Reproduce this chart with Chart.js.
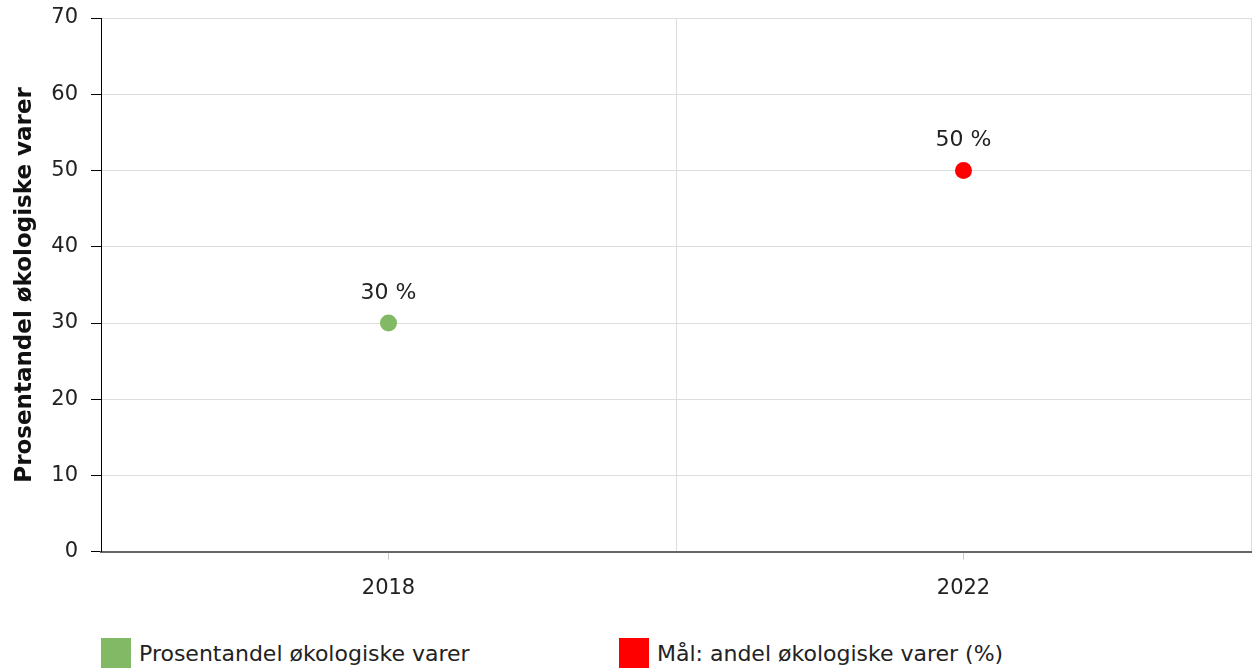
<!DOCTYPE html>
<html>
<head>
<meta charset="utf-8">
<script src="https://cdn.jsdelivr.net/npm/chart.js@4/dist/chart.umd.min.js"></script>
<style>
  body { margin: 0; background: #fff; font-family: "DejaVu Sans", sans-serif; }
  #wrap { position: relative; width: 1253px; height: 670px; }
  #box { position: absolute; left: 0; top: 0; width: 1253px; height: 625px; }
  .leg { position: absolute; top: 638px; display: flex; align-items: center; font-size: 22px; color: #222; }
  .leg span.sw { display: inline-block; width: 30px; height: 30px; margin-right: 8px; }
</style>
</head>
<body>
<div id="wrap">
  <div id="box"><canvas id="c"></canvas></div>
  <div id="legend"></div>
</div>
<script>
const years = ['2018', '2022'];
const actualShare = [30, null];
const targetShare = [null, 50];
const seriesNames = ['Prosentandel økologiske varer', 'Mål: andel økologiske varer (%)'];
const seriesColors = ['#82b964', '#ff0000'];
const yTitle = 'Prosentandel økologiske varer';

const font = { family: 'DejaVu Sans', size: 21 };

// value labels above the points
const pointLabels = {
  id: 'pointLabels',
  afterDatasetsDraw(chart) {
    const ctx = chart.ctx;
    ctx.save();
    ctx.font = '22px "DejaVu Sans"';
    ctx.fillStyle = '#222';
    ctx.textAlign = 'center';
    ctx.textBaseline = 'middle';
    chart.data.datasets.forEach((ds, i) => {
      chart.getDatasetMeta(i).data.forEach((pt, j) => {
        const v = ds.data[j];
        if (v == null) return;
        ctx.fillText(v + ' %', pt.x, pt.y - 30);
      });
    });
    ctx.restore();
  }
};

const chart = new Chart(document.getElementById('c'), {
  type: 'line',
  data: {
    labels: years,
    datasets: [
      { label: seriesNames[0], data: actualShare, backgroundColor: seriesColors[0], borderColor: seriesColors[0] },
      { label: seriesNames[1], data: targetShare, backgroundColor: seriesColors[1], borderColor: seriesColors[1] }
    ]
  },
  options: {
    responsive: true,
    maintainAspectRatio: false,
    animation: false,
    showLine: false,
    elements: { point: { radius: 8.5, borderWidth: 0, hoverRadius: 8.5 } },
    layout: { autoPadding: false, padding: { top: 18, right: 2, left: 0, bottom: 8 } },
    plugins: { legend: { display: false }, tooltip: { enabled: false } },
    scales: {
      x: {
        offset: true,
        grid: { offset: false, drawOnChartArea: false, tickLength: 8, tickColor: '#ccc' },
        border: { color: '#666', width: 2 },
        ticks: { font: font, color: '#222', padding: 16 }
      },
      x2: {
        position: 'top',
        offset: true,
        grid: { offset: true, color: '#dddddd', drawTicks: false },
        border: { display: false },
        ticks: { display: false }
      },
      y: {
        min: 0,
        max: 70,
        ticks: { stepSize: 10, font: font, color: '#222', padding: 13 },
        grid: { color: '#dddddd', tickLength: 10, tickColor: '#000' },
        border: { color: '#000', width: 1 },
        title: { display: true, text: yTitle, color: '#111', font: { family: 'DejaVu Sans', size: 23, weight: 'bold' }, padding: { top: 11, bottom: 0 } },
        afterFit(scale) {
          scale.width = 101;
          scale.paddingTop = 0;
          scale.paddingBottom = 0;
        }
      }
    }
  },
  plugins: [pointLabels]
});

// legend below the chart
const legendLeft = [101, 619];
const legend = document.getElementById('legend');
seriesNames.forEach((name, i) => {
  const d = document.createElement('div');
  d.className = 'leg';
  d.style.left = legendLeft[i] + 'px';
  d.innerHTML = '<span class="sw" style="background:' + seriesColors[i] + '"></span>' + name;
  legend.appendChild(d);
});
</script>
</body>
</html>
